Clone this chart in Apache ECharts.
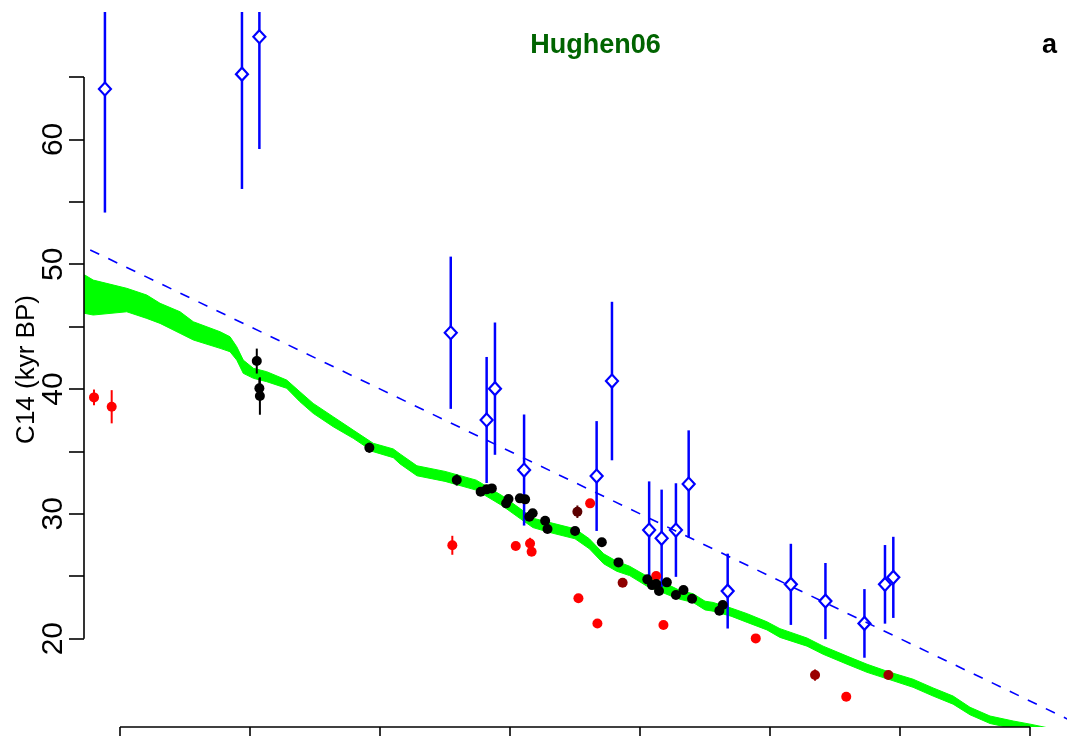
<!DOCTYPE html>
<html><head><meta charset="utf-8">
<script src="https://cdn.jsdelivr.net/npm/echarts@6/dist/echarts.min.js"></script>
<style>html,body{margin:0;padding:0;background:#fff}#c{width:1067px;height:736px}</style>
</head><body><div id="c"></div>
<script>
// ---------- data (cal age kyr BP vs C14 kyr BP) ----------
const bandCal = [52.0, 51.35, 51.03, 49.74, 48.97, 48.46, 47.69, 47.18, 46.15, 45.77, 45.51, 45.26, 44.87, 44.36, 43.59, 43.08, 42.57, 41.80, 41.03, 40.26, 39.49, 39.23, 38.58, 37.5, 36.3, 35.3, 34.6, 34.12, 33.46, 32.5, 31.95, 31.4, 30.9, 30.4, 29.73, 28.85, 28.46, 27.96, 27.5, 27.19, 26.5, 25.88, 25.12, 24.62, 23.58, 22.96, 22.04, 21.27, 20.38, 19.50, 18.73, 17.96, 17.31, 16.54, 15.65, 15.0, 13.5];
const bandLo  = [46.0, 46.06, 45.93, 46.19, 45.66, 45.26, 44.46, 43.93, 43.26, 42.99, 42.32, 41.26, 40.86, 40.59, 40.06, 38.98, 38.05, 36.98, 36.05, 34.98, 34.5, 34.0, 33.05, 32.6, 31.9, 30.65, 29.6, 28.9, 28.5, 28.0, 27.2, 26.0, 25.4, 25.05, 24.2, 23.45, 23.15, 22.9, 22.3, 22.2, 21.8, 21.3, 20.7, 20.1, 19.4, 18.75, 17.95, 17.3, 16.7, 16.1, 15.4, 14.75, 13.9, 13.2, 12.8, 12.55, 11.9];
const bandHi  = [49.2, 49.13, 48.73, 48.07, 47.53, 46.87, 46.19, 45.39, 44.59, 44.19, 43.39, 42.32, 41.66, 41.39, 40.72, 39.78, 38.85, 37.78, 36.71, 35.65, 35.2, 34.8, 33.85, 33.4, 32.7, 31.45, 30.4, 29.65, 29.3, 28.8, 28.0, 26.8, 26.2, 25.8, 25.0, 24.25, 23.85, 23.6, 23.0, 22.9, 22.45, 22.0, 21.35, 20.8, 20.05, 19.4, 18.6, 17.95, 17.3, 16.75, 16.05, 15.4, 14.5, 13.8, 13.4, 13.15, 12.5];

const refCal = [56, 12];
const refC14 = [56, 12];

const blueCal = [50.58, 45.31, 44.64, 37.28, 35.9, 35.58, 34.46, 31.67, 31.08, 29.65, 29.17, 28.62, 28.13, 26.63, 24.2, 22.87, 21.37, 20.58, 20.26];
const blueC14 = [64.04, 65.23, 68.23, 44.51, 37.52, 40.03, 33.51, 33.03, 40.64, 28.7, 28.04, 28.7, 32.39, 23.81, 24.35, 23.01, 21.22, 24.35, 24.91];
const blueErr = [9.9, 9.2, 9.0, 6.1, 5.05, 5.3, 4.45, 4.4, 6.35, 3.9, 3.9, 3.75, 4.3, 3.0, 3.25, 3.05, 2.75, 3.15, 3.25];

const blackCal = [44.74, 44.64, 44.62, 40.41, 37.05, 36.13, 35.9, 35.7, 35.15, 35.06, 34.62, 34.42, 34.26, 34.13, 33.65, 33.56, 32.5, 31.47, 30.83, 29.72, 29.54, 29.38, 29.27, 28.97, 28.62, 28.33, 28.0, 26.95, 26.82];
const blackC14 = [42.24, 40.06, 39.44, 35.3, 32.71, 31.77, 31.96, 32.04, 30.84, 31.19, 31.24, 31.16, 29.77, 30.04, 29.45, 28.78, 28.62, 27.72, 26.11, 24.75, 24.29, 24.37, 23.81, 24.51, 23.49, 23.89, 23.2, 22.24, 22.69];
const blackErr = [1.0, 0.8, 1.5, 0.4, 0.45, 0.2, 0.2, 0.2, 0.2, 0.2, 0.2, 0.2, 0.2, 0.2, 0.2, 0.2, 0.2, 0.2, 0.2, 0.2, 0.2, 0.2, 0.2, 0.2, 0.2, 0.2, 0.2, 0.2, 0.2];

const redCal = [51.0, 50.32, 37.22, 34.78, 34.23, 34.17, 31.92, 32.37, 31.64, 29.38, 29.1, 25.55, 22.07];
const redC14 = [39.33, 38.58, 27.48, 27.42, 27.63, 26.96, 30.84, 23.23, 21.22, 25.02, 21.09, 20.02, 15.34];
const redErr = [0.63, 1.33, 0.76, 0.2, 0.45, 0.2, 0.2, 0.2, 0.2, 0.2, 0.2, 0.2, 0.2];

const darkCal = [32.41, 30.67, 23.27, 20.45];
const darkC14 = [30.17, 24.48, 17.08, 17.08];
const darkErr = [0.5, 0.2, 0.45, 0.2];

const xTicks = [15, 20, 25, 30, 35, 40, 45, 50];
const yTicks = [20, 25, 30, 35, 40, 45, 50, 55, 60, 65];
const yLabels = [20, 30, 40, 50, 60];

// ---------- styles ----------
const darkColors = ['#5C0000', '#8E0000', '#9A0000', '#A00000'];
const FONT = '"Liberation Sans", Arial, Helvetica, sans-serif';
const X_MIN = 13.58, X_MAX = 51.385, Y_MIN = 12.92, Y_MAX = 70.21;

const zip3 = (a, b, c) => a.map((v, i) => [v, b[i], c[i]]);

function errBar(color, width, colors) {
  return function (params, api) {
    const x = api.value(0), y = api.value(1), e = api.value(2);
    const p1 = api.coord([x, y - e]), p2 = api.coord([x, y + e]);
    return {type: 'line', shape: {x1: p1[0], y1: p1[1], x2: p2[0], y2: p2[1]},
      style: {stroke: colors ? colors[params.dataIndex] : color, lineWidth: width}};
  };
}

const chart = echarts.init(document.getElementById('c'), null, {renderer: 'canvas'});
chart.setOption({
  animation: false,
  backgroundColor: '#ffffff',
  grid: {left: 84, right: 0, top: 12, bottom: 9, containLabel: false, outerBoundsMode: 'none'},
  xAxis: {
    type: 'value', inverse: true, min: X_MIN, max: X_MAX,
    axisLine: {show: false}, splitLine: {show: false},
    axisTick: {show: true, length: 12, customValues: xTicks, lineStyle: {color: '#000', width: 1.6}},
    axisLabel: {show: false}
  },
  yAxis: {
    type: 'value', min: Y_MIN, max: Y_MAX,
    axisLine: {show: false}, splitLine: {show: false},
    axisTick: {show: true, length: 15, customValues: yTicks, lineStyle: {color: '#000', width: 1.6}},
    axisLabel: {show: true, customValues: yLabels, rotate: 90, margin: 15, fontSize: 30, color: '#000', fontFamily: FONT},
    name: 'C14 (kyr BP)', nameLocation: 'middle', nameRotate: 90, nameGap: 44, nameMoveOverlap: false,
    nameTextStyle: {fontSize: 26, color: '#000', fontFamily: FONT}
  },
  graphic: [
    {type: 'text', x: 595.5, y: 46, style: {text: 'Hughen06', fill: '#006400', font: 'bold 27px ' + FONT, textAlign: 'center', textVerticalAlign: 'middle'}},
    {type: 'text', x: 1049.5, y: 46, style: {text: 'a', fill: '#000', font: 'bold 27px ' + FONT, textAlign: 'center', textVerticalAlign: 'middle'}}
  ],
  series: [
    { // calibration band
      type: 'custom', clip: true, silent: true,
      data: zip3(bandCal, bandLo, bandHi),
      renderItem: function (params, api) {
        if (params.dataIndex !== 0) return null;
        const pts = [];
        for (let i = 0; i < bandCal.length; i++) pts.push(api.coord([bandCal[i], bandHi[i]]));
        for (let i = bandCal.length - 1; i >= 0; i--) pts.push(api.coord([bandCal[i], bandLo[i]]));
        return {type: 'polygon', shape: {points: pts}, style: {fill: '#00FF00', stroke: '#00FF00', lineWidth: 1}};
      }
    },
    { // 1:1 dashed line
      type: 'line', silent: true, clip: true, symbol: 'none',
      data: refCal.map((v, i) => [v, refC14[i]]),
      lineStyle: {color: '#0000FF', width: 1.6, type: [10, 10]}
    },
    { // x axis line
      type: 'line', silent: true, clip: false, symbol: 'none',
      data: [[xTicks[0], Y_MIN], [xTicks[xTicks.length - 1], Y_MIN]],
      lineStyle: {color: '#000', width: 1.6}
    },
    { // y axis line
      type: 'line', silent: true, clip: false, symbol: 'none',
      data: [[X_MAX, yTicks[0]], [X_MAX, yTicks[yTicks.length - 1]]],
      lineStyle: {color: '#000', width: 1.6}
    },
    {type: 'custom', clip: true, silent: true, data: zip3(blueCal, blueC14, blueErr), renderItem: errBar('#0000FF', 2.5)},
    {type: 'scatter', silent: true, symbol: 'diamond', symbolSize: [12, 13],
      data: blueCal.map((v, i) => [v, blueC14[i]]),
      itemStyle: {color: '#ffffff', opacity: 1, borderColor: '#0000FF', borderWidth: 2.2}},
    {type: 'custom', clip: true, silent: true, data: zip3(redCal, redC14, redErr), renderItem: errBar('#FF0000', 2)},
    {type: 'scatter', silent: true, symbol: 'circle', symbolSize: 10,
      data: redCal.map((v, i) => [v, redC14[i]]), itemStyle: {color: '#FF0000', opacity: 1}},
    {type: 'custom', clip: true, silent: true, data: zip3(darkCal, darkC14, darkErr), renderItem: errBar(null, 2, darkColors)},
    {type: 'scatter', silent: true, symbol: 'circle', symbolSize: 10,
      data: darkCal.map((v, i) => ({value: [v, darkC14[i]], itemStyle: {color: darkColors[i], opacity: 1}}))},
    {type: 'custom', clip: true, silent: true, data: zip3(blackCal, blackC14, blackErr), renderItem: errBar('#000000', 2)},
    {type: 'scatter', silent: true, symbol: 'circle', symbolSize: 10,
      data: blackCal.map((v, i) => [v, blackC14[i]]), itemStyle: {color: '#000000', opacity: 1}}
  ]
});
</script></body></html>
